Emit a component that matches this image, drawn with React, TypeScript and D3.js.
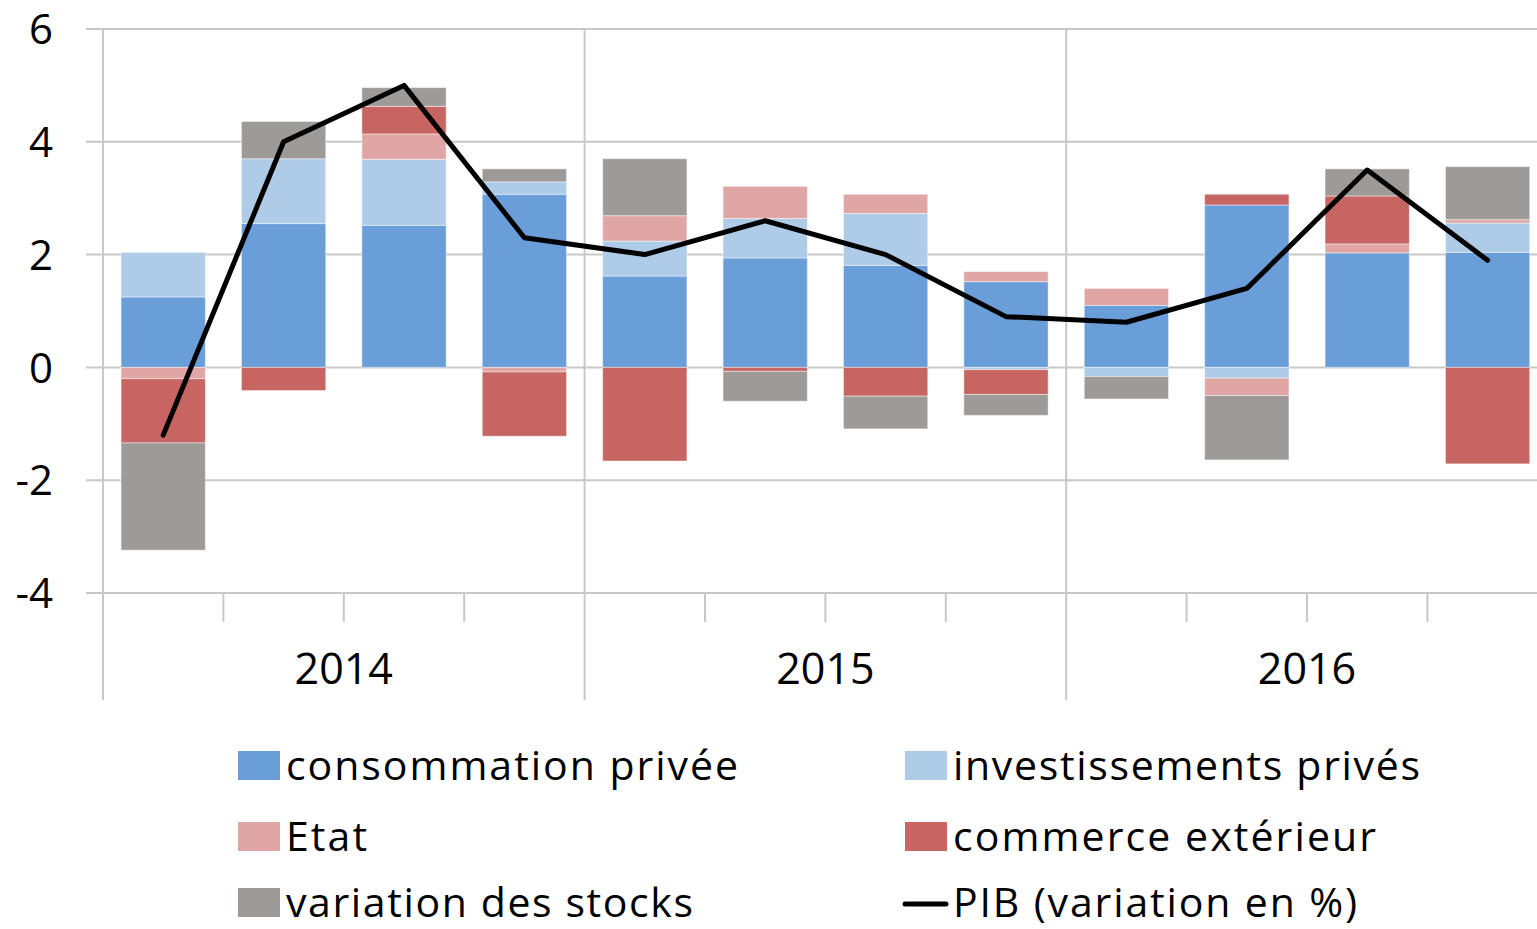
import React from "react";
import * as d3 from "d3";

const quarters = ["2014T1","2014T2","2014T3","2014T4","2015T1","2015T2","2015T3","2015T4","2016T1","2016T2","2016T3","2016T4"];
const years = ["2014", "2015", "2016"];
const yTicks = [-4, -2, 0, 2, 4, 6];

const consommation = [1.25, 2.55, 2.52, 3.07, 1.62, 1.94, 1.81, 1.52, 1.10, 2.88, 2.03, 2.04];
const investissements = [0.79, 1.15, 1.17, 0.22, 0.62, 0.70, 0.92, -0.04, -0.16, -0.19, 0, 0.52];
const etat = [-0.2, 0, 0.45, -0.08, 0.45, 0.57, 0.34, 0.18, 0.30, -0.31, 0.16, 0.06];
const commerce = [-1.14, -0.41, 0.49, -1.14, -1.66, -0.07, -0.51, -0.44, 0, 0.19, 0.85, -1.71];
const stocks = [-1.9, 0.66, 0.33, 0.23, 1.01, -0.53, -0.58, -0.37, -0.40, -1.14, 0.48, 0.94];
const pib = [-1.2, 4.0, 5.0, 2.3, 2.0, 2.6, 2.0, 0.9, 0.8, 1.4, 3.5, 1.9];

const seriesKeys = ["cons", "inv", "etat", "comm", "stocks"];
const seriesLabels = ["consommation privée", "investissements privés", "Etat", "commerce extérieur", "variation des stocks"];
const seriesColors = ["#6a9ed9", "#aecbe8", "#e0a6a5", "#c76562", "#9e9a98"];
const lineLabel = "PIB (variation en %)";

const W = 1537, H = 929;
const FONT = "'Open Sans', 'Noto Sans', sans-serif";

export default function App() {
  const table = quarters.map((q, i) => ({
    q,
    cons: consommation[i],
    inv: investissements[i],
    etat: etat[i],
    comm: commerce[i],
    stocks: stocks[i],
  }));
  const stack = d3.stack<any>().keys(seriesKeys).offset(d3.stackOffsetDiverging);
  const layers = stack(table);

  const x0 = 103;
  const step = 120.4;
  const x = d3.scaleBand().domain(quarters).range([x0, x0 + step * quarters.length]).paddingInner(0.3).paddingOuter(0.15);
  const y = d3.scaleLinear().domain([-4, 6]).range([593, 29]);

  const line = d3.line<number>()
    .x((_, i) => (x(quarters[i]) as number) + x.bandwidth() / 2)
    .y((d) => y(d));

  const grid = "#c8c8c8";
  const yearW = step * 4;

  const legendItems = [
    { label: seriesLabels[0], color: seriesColors[0], x: 238, y: 780, w: 452 },
    { label: seriesLabels[1], color: seriesColors[1], x: 905, y: 780, w: 467 },
    { label: seriesLabels[2], color: seriesColors[2], x: 238, y: 851, w: 81 },
    { label: seriesLabels[3], color: seriesColors[3], x: 905, y: 851, w: 423 },
    { label: seriesLabels[4], color: seriesColors[4], x: 238, y: 917, w: 407 },
  ];

  return (
    <svg width={W} height={H} style={{ position: "absolute", left: 0, top: 0, background: "#fff" }} fontFamily={FONT}>
      {yTicks.map((t) => (
        <line key={t} x1={86} x2={W} y1={y(t)} y2={y(t)} stroke={grid} strokeWidth={2} />
      ))}
      {[0, 1, 2, 3].map((k) => (
        <line key={"v" + k} x1={x0 + k * yearW} x2={x0 + k * yearW} y1={y(6)} y2={700} stroke={grid} strokeWidth={2} />
      ))}
      {quarters.map((q, i) => i % 4 !== 0 ? (
        <line key={"t" + q} x1={x0 + i * step} x2={x0 + i * step} y1={y(-4)} y2={622} stroke={grid} strokeWidth={2} />
      ) : null)}
      {yTicks.map((t) => (
        <text key={"l" + t} x={53} y={y(t)} dy="0.36em" textAnchor="end" fontSize={42} fill="#000">{t}</text>
      ))}
      {years.map((yr, k) => (
        <text key={yr} x={x0 + k * yearW + yearW / 2} y={684} textAnchor="middle" fontSize={43} fill="#000">{yr}</text>
      ))}
      {layers.map((layer, li) => (
        <g key={layer.key} fill={seriesColors[li]}>
          {layer.map((d, i) => {
            const h = Math.abs(y(d[0]) - y(d[1]));
            if (h < 0.01) return null;
            return (
              <rect key={i} x={x(quarters[i])} width={x.bandwidth()} y={Math.min(y(d[0]), y(d[1]))} height={h}
                stroke="#ffffff" strokeOpacity={0.45} strokeWidth={1} />
            );
          })}
        </g>
      ))}
      <path d={line(pib) || ""} fill="none" stroke="#000" strokeWidth={5} strokeLinejoin="round" strokeLinecap="round" />
      {legendItems.map((it) => (
        <g key={it.label}>
          <rect x={it.x} y={it.y - 29} width={42} height={29} fill={it.color} />
          <text x={it.x + 48} y={it.y} fontSize={41} fill="#000" textLength={it.w} lengthAdjust="spacing">{it.label}</text>
        </g>
      ))}
      <g>
        <line x1={905} x2={946} y1={904} y2={904} stroke="#000" strokeWidth={5} strokeLinecap="round" />
        <text x={953} y={917} fontSize={41} fill="#000" textLength={404} lengthAdjust="spacing">{lineLabel}</text>
      </g>
    </svg>
  );
}
